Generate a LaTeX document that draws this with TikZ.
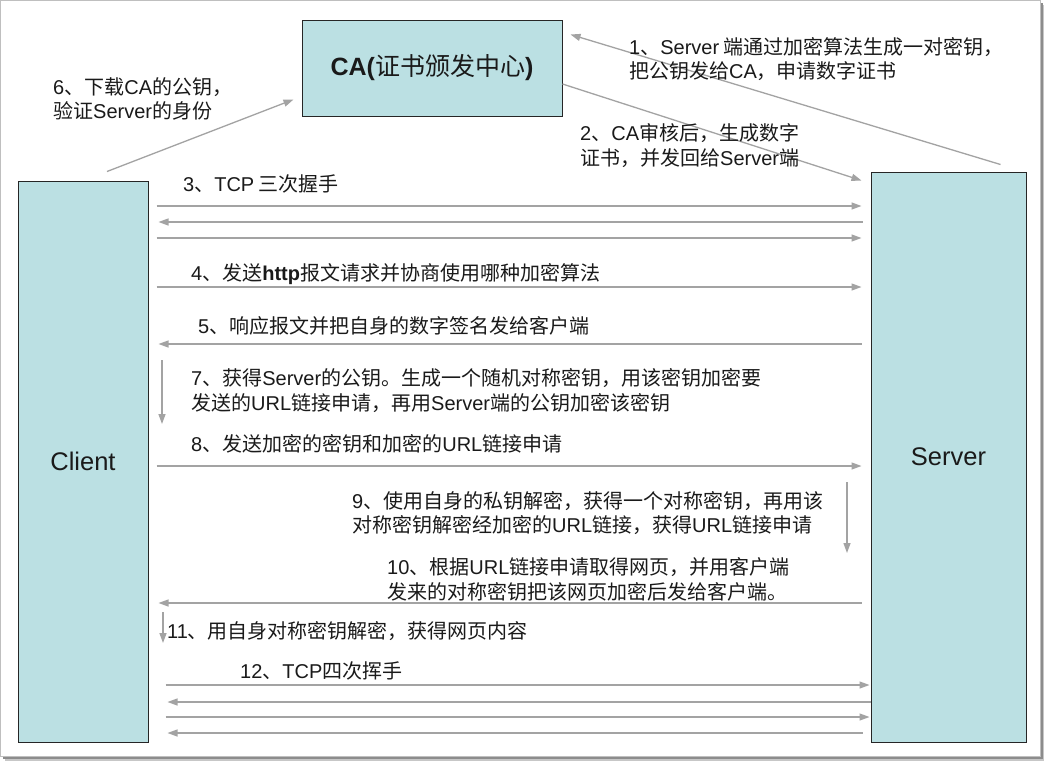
\documentclass[tikz,border=0pt]{standalone}
\usepackage{fontspec}
\setmainfont{Noto Sans CJK SC}
\newfontfamily\latf{Liberation Sans}
\usetikzlibrary{arrows.meta,calc}
\newcommand\enf[1]{{\latf #1}}
\definecolor{boxfill}{HTML}{BBE0E3}
\definecolor{arrowgray}{HTML}{A3A3A3}
\definecolor{txt}{HTML}{1A1A1A}
\begin{document}
\begin{tikzpicture}[x=1pt,y=-1pt,
  lane/.style={draw=black!85, line width=1pt, fill=boxfill, inner sep=0pt, text=txt},
  conn/.style={draw=arrowgray, line width=1.3pt, -{Triangle[length=10pt,width=7pt]}},
  lbl/.style={anchor=west, inner sep=0pt, align=left, text=txt, font=\fontsize{20}{24.5}\selectfont},
]
\useasboundingbox (0,0) rectangle (1044,761);
% frame with shadow
\fill[black!22] (5,5) rectangle (1044,761);
\fill[black!45] (3,3) rectangle (1042.5,759);
\filldraw[fill=white, draw=black!25, line width=1pt] (0.5,0.5) rectangle (1040.5,756.5);

% boxes
\node[lane, minimum width=260pt, minimum height=96pt] (ca) at (432,68)
  {\fontsize{25}{30}\selectfont\textbf{\latf CA(}证书颁发中心\textbf{\latf )}};
\node[lane, minimum width=130pt, minimum height=561pt] (client) at (83,461.5)
  {\fontsize{25.5}{30}\selectfont\latf Client};
\node[lane, minimum width=155pt, minimum height=570pt] (server) at (948.5,457)
  {\fontsize{25.5}{30}\selectfont\latf Server};

% CA arrows
\draw[conn] ([shift={(-26,-7)}]server.north east) -- ([shift={(8,15)}]ca.north east);
\draw[conn] ([shift={(0,16)}]ca.east) -- ([shift={(-9,9)}]server.north west);
\draw[conn] ([shift={(24,-9)}]client.north) -- ([shift={(-8,-17)}]ca.south west);

% labels
\node[lbl] (l1) at (629,59) {\enf{1}、\enf{Server} 端通过加密算法生成一对密钥，\\把公钥发给\enf{CA}，申请数字证书};
\node[lbl] (l2) at (580,145.5) {\enf{2}、\enf{CA}审核后，生成数字\\证书，并发回给\enf{Server}端};
\node[lbl] (l6) at (53,99) {\enf{6}、下载\enf{CA}的公钥，\\验证\enf{Server}的身份};
\node[lbl] (l3) at (183,184) {\enf{3}、\enf{TCP} 三次握手};
\node[lbl] (l4) at (191,274) {\enf{4}、发送\textbf{\latf http}报文请求并协商使用哪种加密算法};
\node[lbl] (l5) at (198,326) {\enf{5}、响应报文并把自身的数字签名发给客户端};
\node[lbl] (l7) at (191,390.5) {\enf{7}、获得\enf{Server}的公钥。生成一个随机对称密钥，用该密钥加密要\\发送的\enf{URL}链接申请，再用\enf{Server}端的公钥加密该密钥};
\node[lbl] (l8) at (191,444) {\enf{8}、发送加密的密钥和加密的\enf{URL}链接申请};
\node[lbl] (l9) at (352,513) {\enf{9}、使用自身的私钥解密，获得一个对称密钥，再用该\\对称密钥解密经加密的\enf{URL}链接，获得\enf{URL}链接申请};
\node[lbl] (l10) at (387,579.5) {\enf{10}、根据\enf{URL}链接申请取得网页，并用客户端\\发来的对称密钥把该网页加密后发给客户端。};
\node[lbl] (l11) at (167,631) {\enf{11}、用自身对称密钥解密，获得网页内容};
\node[lbl] (l12) at (240,671) {\enf{12}、\enf{TCP}四次挥手};

% TCP three-way handshake
\draw[conn, shorten <=8pt, shorten >=9pt] (client.east |- 0,206) -- (server.west |- 0,206);
\draw[conn, shorten <=8pt, shorten >=10pt] (server.west |- 0,222) -- (client.east |- 0,222);
\draw[conn, shorten <=8pt, shorten >=9pt] (client.east |- 0,238) -- (server.west |- 0,238);

% messages
\draw[conn, shorten <=8pt, shorten >=9pt] (client.east |- 0,287) -- (server.west |- 0,287);
\draw[conn, shorten <=9pt, shorten >=10pt] (server.west |- 0,344) -- (client.east |- 0,344);
\draw[conn, shorten <=8pt, shorten >=9pt] (client.east |- 0,466) -- (server.west |- 0,466);
\draw[conn, shorten <=9pt, shorten >=10pt] (server.west |- 0,603) -- (client.east |- 0,603);

% local processing arrows
\coordinate (v7a) at (162,360); \coordinate (v7b) at (162,424);
\coordinate (v9a) at (847,482); \coordinate (v9b) at (847,553);
\coordinate (v11a) at (163,612); \coordinate (v11b) at (163,643);
\draw[conn] (v7a) -- (v7b);
\draw[conn] (v9a) -- (v9b);
\draw[conn] (v11a) -- (v11b);

% TCP four-way wave
\draw[conn, shorten <=17pt, shorten >=1pt] (client.east |- 0,685) -- (server.west |- 0,685);
\draw[conn, shorten <=0pt, shorten >=19pt] (server.west |- 0,702) -- (client.east |- 0,702);
\draw[conn, shorten <=17pt, shorten >=1pt] (client.east |- 0,717) -- (server.west |- 0,717);
\draw[conn, shorten <=8pt, shorten >=19pt] (server.west |- 0,733) -- (client.east |- 0,733);
\end{tikzpicture}
\end{document}
